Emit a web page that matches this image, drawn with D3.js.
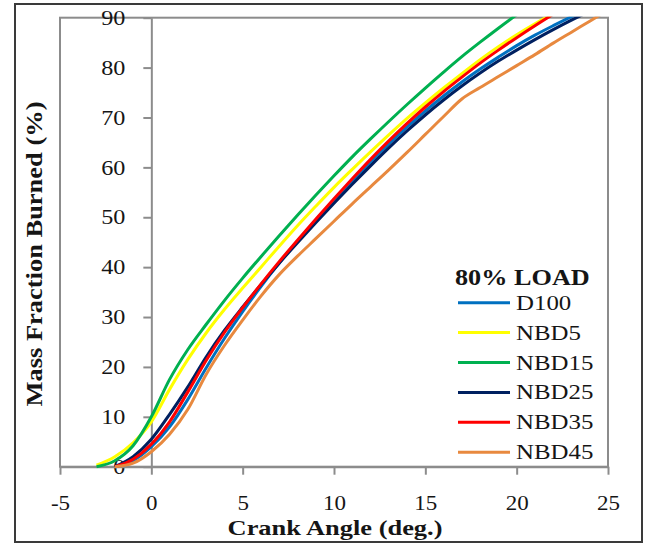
<!DOCTYPE html>
<html>
<head>
<meta charset="utf-8">
<script src="https://d3js.org/d3.v7.min.js"></script>
<style>
  body { margin: 0; background: #fff; }
  text { font-family: "Liberation Serif", "Times New Roman", serif; fill: #151515; }
</style>
</head>
<body>
<script>
var w = 646,
    h = 545;

// crank angle (deg.) where values were read
var crankAngle = [-3, -2, -1, 0, 1, 2, 3, 4, 5, 6, 7, 8, 9, 10, 11, 12, 13, 14, 15, 16, 17, 18, 19, 20, 21, 22, 23, 24, 25];

var seriesNames = ['D100', 'NBD5', 'NBD15', 'NBD25', 'NBD35', 'NBD45'];
var colors = ['#0070C0', '#FFFF00', '#00B050', '#002060', '#FF0000', '#E8893F'];

// mass fraction burned (%), null = not started yet
var d100  = [null, 0, 1.2, 4, 8, 13.5, 19.8, 25.7, 31.1, 36.1, 40.8, 45.2, 49.4, 53.4, 57.3, 61.1, 64.7, 68.1, 71.3, 74.3, 77.1, 79.7, 82.1, 84.4, 86.5, 88.4, 90.2, 91.9, 93.5];
var nbd5  = [0.3, 2, 4.8, 9, 15.5, 21.5, 26.8, 31.5, 35.8, 40, 44.2, 48.3, 52.2, 56, 59.6, 63.1, 66.5, 69.8, 72.9, 75.9, 78.8, 81.6, 84.2, 86.6, 88.8, 90.8, 92.6, 94.3, 95.9];
var nbd15 = [0, 1.2, 4.2, 10, 17.5, 23.5, 28.5, 33.3, 37.8, 42.1, 46.3, 50.4, 54.4, 58.3, 62.1, 65.7, 69.2, 72.6, 75.9, 79.1, 82.2, 85.1, 87.9, 90.6, 93.2, 95.7, 98, 100, 100];
var nbd25 = [null, 0, 2, 5.5, 10.5, 16, 22, 27.3, 32, 36.5, 40.8, 44.9, 48.9, 52.8, 56.6, 60.3, 63.9, 67.3, 70.5, 73.5, 76.3, 78.9, 81.3, 83.5, 85.6, 87.6, 89.5, 91.3, 93];
var nbd35 = [null, 0, 1.5, 4.5, 9, 15, 21.3, 26.9, 31.9, 36.6, 41.1, 45.4, 49.6, 53.7, 57.7, 61.6, 65.3, 68.8, 72.1, 75.2, 78.1, 80.9, 83.5, 86, 88.4, 90.7, 92.9, 95, 97];
var nbd45 = [null, 0, 0.7, 3, 6.5, 11.5, 18.5, 24.3, 29.4, 34.2, 38.5, 42.2, 45.7, 49.2, 52.7, 56.1, 59.5, 63, 66.6, 70.2, 73.7, 76, 78.2, 80.4, 82.6, 84.9, 87.1, 89.3, 91.5];

var xTicks = [-5, 0, 5, 10, 15, 20, 25];
var yTicks = [0, 10, 20, 30, 40, 50, 60, 70, 80, 90];

var allSeries = [d100, nbd5, nbd15, nbd25, nbd35, nbd45];

var x = d3.scaleLinear().domain([-5, 25]).range([60, 608]);
var y = d3.scaleLinear().domain([0, 90]).range([466.7, 17.7]);

function stretch(sel, k) {
  sel.each(function () {
    var len = this.getComputedTextLength();
    this.setAttribute('textLength', len * k);
    this.setAttribute('lengthAdjust', 'spacingAndGlyphs');
  });
}

var svg = d3.select('body')
  .append('svg')
  .attr('width', w)
  .attr('height', h);

// outer chart border
svg.append('rect')
  .attr('x', 15).attr('y', 4)
  .attr('width', 627).attr('height', 538)
  .attr('fill', 'none')
  .attr('stroke', '#3a3a3a')
  .attr('stroke-width', 2);

// plot area frame
svg.append('rect')
  .attr('x', x(-5)).attr('y', y(90))
  .attr('width', x(25) - x(-5)).attr('height', y(0) - y(90))
  .attr('fill', 'none')
  .attr('stroke', '#8c8c8c')
  .attr('stroke-width', 2);

svg.append('clipPath')
  .attr('id', 'plotclip')
  .append('rect')
  .attr('x', x(-5)).attr('y', y(90) - 1)
  .attr('width', x(25) - x(-5)).attr('height', y(0) - y(90) + 3);

// axes cross at 0, plain hyphen for negatives
var plain = function (d) { return String(d); };

var yAxis = svg.append('g')
  .attr('transform', 'translate(' + x(0) + ',0)')
  .call(d3.axisLeft(y).tickValues(yTicks).tickFormat(plain).tickSize(8).tickSizeOuter(0).tickPadding(18));

var xAxis = svg.append('g')
  .attr('transform', 'translate(0,' + y(0) + ')')
  .call(d3.axisBottom(x).tickValues(xTicks).tickFormat(plain).tickSize(8).tickSizeOuter(0).tickPadding(21.5));

yAxis.selectAll('text').style('font-size', '21px');
xAxis.selectAll('text').style('font-size', '20px');

[yAxis, xAxis].forEach(function (g) {
  g.selectAll('path, line').attr('stroke', '#8c8c8c').attr('stroke-width', 2);
  g.selectAll('text')
    .attr('fill', '#151515')
    .style('font-family', '"Liberation Serif", "Times New Roman", serif')
    .call(stretch, 1.15);
});

var line = d3.line()
  .defined(function (d) { return d != null; })
  .x(function (d, i) { return x(crankAngle[i]); })
  .y(function (d) { return y(d); })
  .curve(d3.curveMonotoneX);

svg.append('g')
  .attr('clip-path', 'url(#plotclip)')
  .selectAll('path')
  .data(allSeries)
  .enter()
  .append('path')
  .attr('d', line)
  .attr('fill', 'none')
  .attr('stroke', function (d, i) { return colors[i]; })
  .attr('stroke-width', 3)
  .attr('stroke-linejoin', 'round');

// axis titles
svg.append('text')
  .text('Crank Angle (deg.)')
  .attr('x', 335).attr('y', 535)
  .attr('text-anchor', 'middle')
  .style('font-size', '22px')
  .style('font-weight', 'bold')
  .call(stretch, 1.2);

svg.append('text')
  .text('Mass Fraction Burned (%)')
  .attr('transform', 'translate(42,254) rotate(-90)')
  .attr('text-anchor', 'middle')
  .style('font-size', '23px')
  .style('font-weight', 'bold')
  .call(stretch, 1.15);

// legend
var legend = svg.append('g');

legend.append('text')
  .text('80% LOAD')
  .attr('x', 455).attr('y', 285)
  .style('font-size', '23px')
  .style('font-weight', 'bold')
  .call(stretch, 1.14);

var rows = legend.selectAll('g.row')
  .data(seriesNames)
  .enter()
  .append('g')
  .attr('class', 'row')
  .attr('transform', function (d, i) { return 'translate(0,' + (302.7 + i * 29.9) + ')'; });

rows.append('line')
  .attr('x1', 458).attr('x2', 510)
  .attr('stroke', function (d, i) { return colors[i]; })
  .attr('stroke-width', 3);

rows.append('text')
  .text(function (d) { return d; })
  .attr('x', 516).attr('y', 7)
  .style('font-size', '22px')
  .call(stretch, 1.13);
</script>
</body>
</html>
